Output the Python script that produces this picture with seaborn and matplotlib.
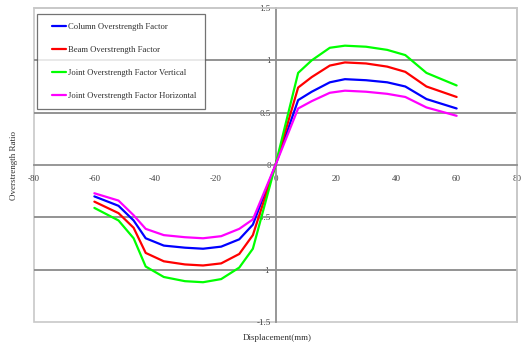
import numpy as np
import pandas as pd
import seaborn as sns
import matplotlib
matplotlib.use("Agg")
import matplotlib.pyplot as plt
from matplotlib.patches import Rectangle

# Displacement (mm) at which each overstrength factor was evaluated
displacement = [-60, -52, -47, -43, -37, -30, -24, -18, -12, -7.5, 0,
                7.5, 12, 18, 23, 30, 37, 43, 50, 60]

column_factor = [-0.30, -0.39, -0.53, -0.70, -0.77, -0.79, -0.80, -0.78, -0.71, -0.57, 0.0,
                 0.62, 0.70, 0.79, 0.82, 0.81, 0.79, 0.75, 0.63, 0.54]
beam_factor = [-0.35, -0.46, -0.60, -0.84, -0.92, -0.95, -0.96, -0.94, -0.85, -0.67, 0.0,
               0.74, 0.84, 0.95, 0.98, 0.97, 0.94, 0.89, 0.75, 0.65]
joint_vertical = [-0.41, -0.53, -0.70, -0.97, -1.07, -1.11, -1.12, -1.09, -0.98, -0.80, 0.0,
                  0.88, 1.00, 1.12, 1.14, 1.13, 1.10, 1.05, 0.88, 0.76]
joint_horizontal = [-0.27, -0.34, -0.48, -0.61, -0.67, -0.69, -0.70, -0.68, -0.61, -0.52, 0.0,
                    0.54, 0.61, 0.69, 0.71, 0.70, 0.68, 0.65, 0.55, 0.47]

series_names = ["Column Overstrength Factor", "Beam Overstrength Factor",
                "Joint Overstrength Factor Vertical", "Joint Overstrength Factor Horizontal"]
series_values = [column_factor, beam_factor, joint_vertical, joint_horizontal]
series_colors = ["#0000ff", "#ff0000", "#00ff00", "#ff00ff"]

x_ticks = [-80, -60, -40, -20, 0, 20, 40, 60, 80]
y_ticks = [-1.5, -1, -0.5, 0, 0.5, 1, 1.5]
y_tick_labels = ["-1.5", "-1", "-0.5", "0", "0.5", "1", "1.5"]

df = pd.concat(
    [pd.DataFrame({"Displacement": displacement, "Ratio": vals, "Series": name})
     for name, vals in zip(series_names, series_values)],
    ignore_index=True,
)

sns.set_theme(style="white")
plt.rcParams["font.family"] = ["Liberation Serif", "DejaVu Serif"]

fig = plt.figure(figsize=(5.21, 3.47), dpi=100)
ax = fig.add_axes([34 / 521, 1 - 322 / 347, 483 / 521, 314 / 347])

sns.lineplot(data=df, x="Displacement", y="Ratio", hue="Series",
             palette=dict(zip(series_names, series_colors)),
             linewidth=1.6, ax=ax, legend=True, sort=False, zorder=3)

ax.set_xlim(-80, 80)
ax.set_ylim(-1.5, 1.5)

# horizontal gridlines at the half-unit levels
for level in [-1, -0.5, 0.5, 1]:
    ax.axhline(level, color="#8a8a8a", linewidth=1.3, zorder=1)

# axes through the origin
ax.spines["left"].set_position(("data", 0))
ax.spines["bottom"].set_position(("data", 0))
for side in ["left", "bottom"]:
    ax.spines[side].set_color("#8f8f8f")
    ax.spines[side].set_linewidth(1.3)
for side in ["top", "right"]:
    ax.spines[side].set_color("#c8c8c8")
    ax.spines[side].set_linewidth(1.2)

# outer frame of the plot area
ax.add_patch(Rectangle((0, 0), 1, 1, transform=ax.transAxes, fill=False,
                       edgecolor="#c8c8c8", linewidth=1.2, zorder=0, clip_on=False))

ax.set_xticks(x_ticks)
ax.set_xticklabels([str(t) for t in x_ticks])
ax.set_yticks(y_ticks)
ax.set_yticklabels(y_tick_labels)
ax.tick_params(axis="both", labelsize=6.5, colors="#404040", length=3,
               width=0.8, direction="inout", pad=2)
ax.tick_params(axis="x", pad=6)
for lab in ax.get_xticklabels() + ax.get_yticklabels():
    lab.set_color("#404040")

ax.set_xlabel("")
ax.set_ylabel("")
fig.text(277 / 521, 1 - 338 / 347, "Displacement(mm)", ha="center", va="center",
         fontsize=6.5, color="#303030")
fig.text(14 / 521, 1 - 165 / 347, "Overstrength Ratio", ha="center", va="center",
         rotation=90, fontsize=6.5, color="#303030")

leg = ax.legend(loc="upper left", bbox_to_anchor=(3 / 483, 1 - 6 / 314),
                fontsize=6.2, frameon=True, fancybox=False, shadow=False,
                handlelength=2.35, handletextpad=0.2, labelspacing=1.75,
                borderpad=1.0, borderaxespad=0)
leg.get_frame().set_edgecolor("#505050")
leg.get_frame().set_linewidth(0.9)
# shorter handle lines, inset from the legend's left edge
handle_width = 2.35 * 6.2
for line in leg.get_lines():
    line.set_linewidth(1.6)
    y0 = np.asarray(line.get_ydata())[0]
    line.set_data([handle_width * 0.3, handle_width], [y0, y0])
for t in leg.get_texts():
    t.set_color("#303030")

fig.savefig("out.png", dpi=100)
